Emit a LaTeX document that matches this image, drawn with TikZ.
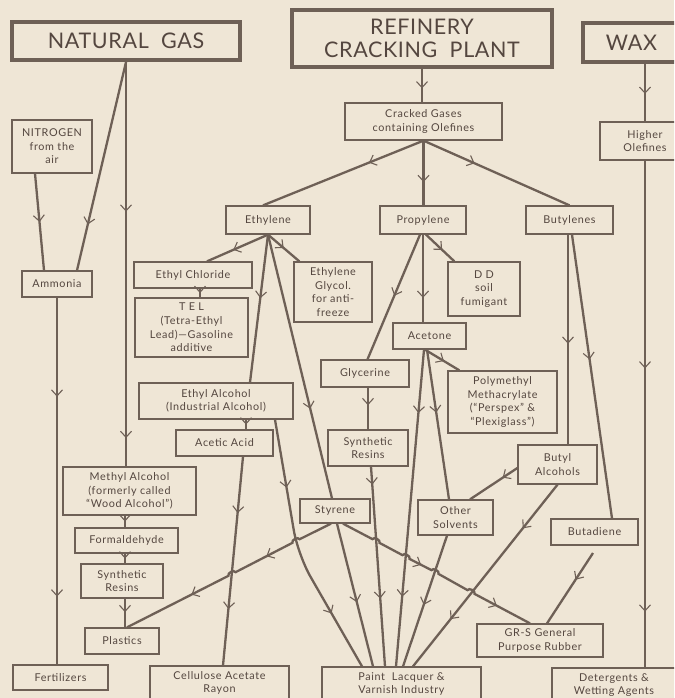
\documentclass[tikz,border=0pt]{standalone}
\usepackage{fontspec}
\setmainfont{Lato}[LetterSpace=6]
\newfontfamily\titlefont{Lato}[LetterSpace=3]
\usetikzlibrary{arrows.meta,decorations.markings,calc}
\definecolor{bgc}{HTML}{EFE6D6}
\definecolor{lnc}{HTML}{6E6056}
\definecolor{txc}{HTML}{54463F}
\begin{document}
\begin{tikzpicture}[x=1pt,y=-1pt,
  box/.style={draw=lnc, line width=1.3pt, fill=bgc, text=txc, align=center, inner sep=0pt,
    font=\fontsize{10.8}{13.6}\selectfont},
  titlebox/.style={box, line width=4pt, font=\titlefont\fontsize{21.5}{23}\selectfont},
  sz/.style 2 args={minimum width=#1pt, minimum height=#2pt},
  flow/.style={draw=lnc, color=lnc, line width=2.3pt},
  arr/.style={postaction={decorate,decoration={markings,
     mark=at position #1 with {\arrow{Straight Barb[length=6pt,width=11pt,line width=1.1pt]}}}}},
]
\useasboundingbox (0,0) rectangle (674,698);
\fill[bgc] (0,0) rectangle (674,698);
\clip (0,0) rectangle (674,698);

% ---------- nodes ----------
\node[titlebox,sz={228}{38}] (ng) at (126,41) {NATURAL\ \ GAS};
\node[titlebox,sz={260}{57}] (ref) at (422,38.5) {REFINERY\\CRACKING\ \ PLANT};
\node[titlebox,sz={97}{39}] (wax) at (631.5,42.5) {WAX};
\node[box,sz={157}{37}] (cg) at (423.5,121.5) {Cracked Gases\\containing Olefines};
\node[box,sz={90}{38}] (ho) at (645,141) {Higher\\Olefines};
\node[box,sz={80}{53}] (nit) at (52,146.5) {NITROGEN\\from the\\air};
\node[box,sz={84}{28}] (eth) at (268,220) {Ethylene};
\node[box,sz={86}{28}] (pro) at (423,220) {Propylene};
\node[box,sz={87}{28}] (but) at (569.5,220) {Butylenes};
\node[box,sz={70}{26}] (amm) at (57,284) {Ammonia};
\node[box,sz={118}{26}] (ecl) at (193,275) {Ethyl Chloride};
\node[box,sz={113}{59}] (tel) at (191.5,327.5) {T E L\\(Tetra-Ethyl\\Lead)—Gasoline\\additive};
\node[box,sz={78}{60}] (eg) at (333,292) {Ethylene\\Glycol.\\for anti-\\freeze};
\node[box,sz={72}{54}] (dd) at (484,289) {D D\\soil\\fumigant};
\node[box,sz={73}{26}] (ace) at (429.5,336) {Acetone};
\node[box,sz={88}{27}] (gly) at (365,373.5) {Glycerine};
\node[box,sz={109}{62}] (pmm) at (502.5,402) {Polymethyl\\Methacrylate\\(“Perspex” \&\\“Plexiglass”)};
\node[box,sz={154}{36}] (eta) at (216,401) {Ethyl Alcohol\\(Industrial Alcohol)};
\node[box,sz={97}{26}] (aa) at (224.5,443) {Acetic Acid};
\node[box,sz={80}{36}] (sr2) at (368,448) {Synthetic\\Resins};
\node[box,sz={79}{39}] (ba) at (557.5,464.5) {Butyl\\Alcohols};
\node[box,sz={133}{48}] (ma) at (129.5,491) {Methyl Alcohol\\(formerly called\\“Wood Alcohol”)};
\node[box,sz={70}{24}] (sty) at (335,511) {Styrene};
\node[box,sz={75}{35}] (os) at (455.5,517.5) {Other\\Solvents};
\node[box,sz={103}{25}] (form) at (126.5,540.5) {Formaldehyde};
\node[box,sz={87}{26}] (bd) at (594.5,532) {Butadiene};
\node[box,sz={82}{34}] (sr1) at (122,581) {Synthetic\\Resins};
\node[box,sz={74}{26}] (pl) at (122,641) {Plastics};
\node[box,sz={126}{33}] (grs) at (540,640.5) {GR-S General\\Purpose Rubber};
\node[box,sz={95}{25}] (fert) at (60.5,677.5) {Fertilizers};
\node[box,sz={139}{34}] (car) at (219.5,683) {Cellulose Acetate\\Rayon};
\node[box,sz={159}{34}] (paint) at (401.5,684) {Paint\ \ Lacquer \&\\Varnish Industry};
\node[box,sz={124}{34}] (det) at (614,685) {Detergents \&\\Wetting Agents};

% ---------- helper coordinates ----------
\coordinate (vx) at (125,0);
\coordinate (bend1) at (298,555);
\coordinate (bdx) at (593,553);
\coordinate (s1) at ([xshift=-4pt]sty.south);
\coordinate (p1) at ([xshift=5pt]pl.north);
\coordinate (h1) at (296,541);
\coordinate (h2) at (232,574);
\coordinate (s2) at ([xshift=8pt]sty.south);
\coordinate (g2) at ([xshift=-10pt]grs.north);
\coordinate (k1) at (376,541);
\coordinate (k2) at (406,557);
\coordinate (k3) at (435,572);
\coordinate (k4) at (471,592);

% ---------- connectors ----------
\draw[flow,arr=0.78] (ng.south) -- ([xshift=20pt]amm.north);
\draw[flow,arr=0.37,arr=0.93] (ng.south) -- (ng.south |- ma.north);
\draw[flow,arr=0.5] ([xshift=-17pt]nit.south) -- ([xshift=-13pt]amm.north);
\draw[flow,arr=0.27,arr=0.815] (amm.south) -- (amm.south |- fert.north);
\draw[flow,arr=0.58] (ref.south) -- (ref.south |- cg.north);
\draw[flow,arr=0.34] (cg.south) -- ([xshift=-5pt]eth.north);
\draw[flow,arr=0.64] (cg.south) -- (cg.south |- pro.north);
\draw[flow,arr=0.35] (cg.south) -- (but.north);
\draw[flow,arr=0.52] (ho.north |- wax.south) -- (ho.north);
\draw[flow,arr=0.41,arr=0.89] (ho.south) -- (ho.south |- det.north);

\draw[flow,arr=0.57] (eth.south) -- ([xshift=14pt]ecl.north);
\draw[flow,arr=0.5] (eth.south) -- ([xshift=6pt]eg.north west);
\draw[flow,arr=0.43] (eth.south) -- ([xshift=34pt]eta.north);
\draw[flow,arr=0.66] (eth.south) -- ([xshift=-3pt]sty.north);
\draw[flow,arr=0.55] ([xshift=2pt]sty.south) -- ([xshift=-28.5pt]paint.north);
\draw[flow,arr=0.26,arr=0.77,rounded corners=25pt] ([xshift=59pt]eta.south) -- (bend1) -- ([xshift=-39.5pt]paint.north);
\draw[flow,arr=0.5] ([xshift=7pt]ecl.south) -- ([xshift=8.5pt]tel.north);
\draw[flow,arr=0.5] ([xshift=30pt]eta.south) -- ([xshift=21.5pt]aa.north);
\draw[flow,arr=0.27,arr=0.73] ([xshift=18.5pt]aa.south) -- ([xshift=3.5pt]car.north);

\draw[flow,arr=0.49] ([xshift=-3pt]pro.south) -- ([xshift=2.5pt]gly.north);
\draw[flow,arr=0.72] (pro.south) -- (pro.south |- ace.north);
\draw[flow,arr=0.57] ([xshift=3pt]pro.south) -- ([xshift=7pt]dd.north west);
\draw[flow,arr=0.55] ([xshift=-4.5pt]ace.south) -- ([xshift=12pt]pmm.north west);
\draw[flow,arr=0.2,arr=0.78] ([xshift=-5.5pt]ace.south) -- ([xshift=-5.5pt]paint.north);
\draw[flow,arr=0.42] ([xshift=-2.5pt]ace.south) -- ([xshift=-6.5pt]os.north);
\draw[flow,arr=0.42] (sr2.north |- gly.south) -- (sr2.north);
\draw[flow,arr=0.09,arr=0.66] ([xshift=3pt]sr2.south) -- ([xshift=-16.5pt]paint.north);
\draw[flow,arr=0.53] ([xshift=-8.5pt]os.south) -- ([xshift=1.5pt]paint.north);
\draw[flow,arr=0.24,arr=0.74] (ba.south) -- ([xshift=11.5pt]paint.north);
\draw[flow,arr=0.31] ([yshift=-3.5pt]ba.west) -- ([xshift=14.5pt]os.north);
\draw[flow,arr=0.52] ([xshift=-1.5pt]but.south) -- ([xshift=10.5pt]ba.north);
\draw[flow,arr=0.44] ([xshift=2.5pt]but.south) -- ([xshift=17.5pt]bd.north);
\draw[flow,arr=0.38] (bdx) -- ([xshift=7pt]grs.north);

\draw[flow,arr=0.5] (vx |- ma.south) -- (vx |- form.north);
\draw[flow,arr=0.5] (vx |- form.south) -- (vx |- sr1.north);
\draw[flow,arr=0.47] (vx |- sr1.south) -- (vx |- pl.north);

% Styrene lines with hops
\draw[flow,arr=0.32,arr=0.69] (s1) -- ($(h1)!4pt!(s1)$) to[bend right=90] ($(h1)!4pt!(p1)$)
  -- ($(h2)!4pt!(s1)$) to[bend right=90] ($(h2)!4pt!(p1)$) -- (p1);
\draw[flow,arr=0.42,arr=0.83] (s2) -- ($(k1)!4pt!(s2)$) to[bend left=90] ($(k1)!4pt!(g2)$)
  -- ($(k2)!4pt!(s2)$) to[bend left=90] ($(k2)!4pt!(g2)$)
  -- ($(k3)!4pt!(s2)$) to[bend left=90] ($(k3)!4pt!(g2)$)
  -- ($(k4)!4pt!(s2)$) to[bend left=90] ($(k4)!4pt!(g2)$) -- (g2);
\end{tikzpicture}
\end{document}
